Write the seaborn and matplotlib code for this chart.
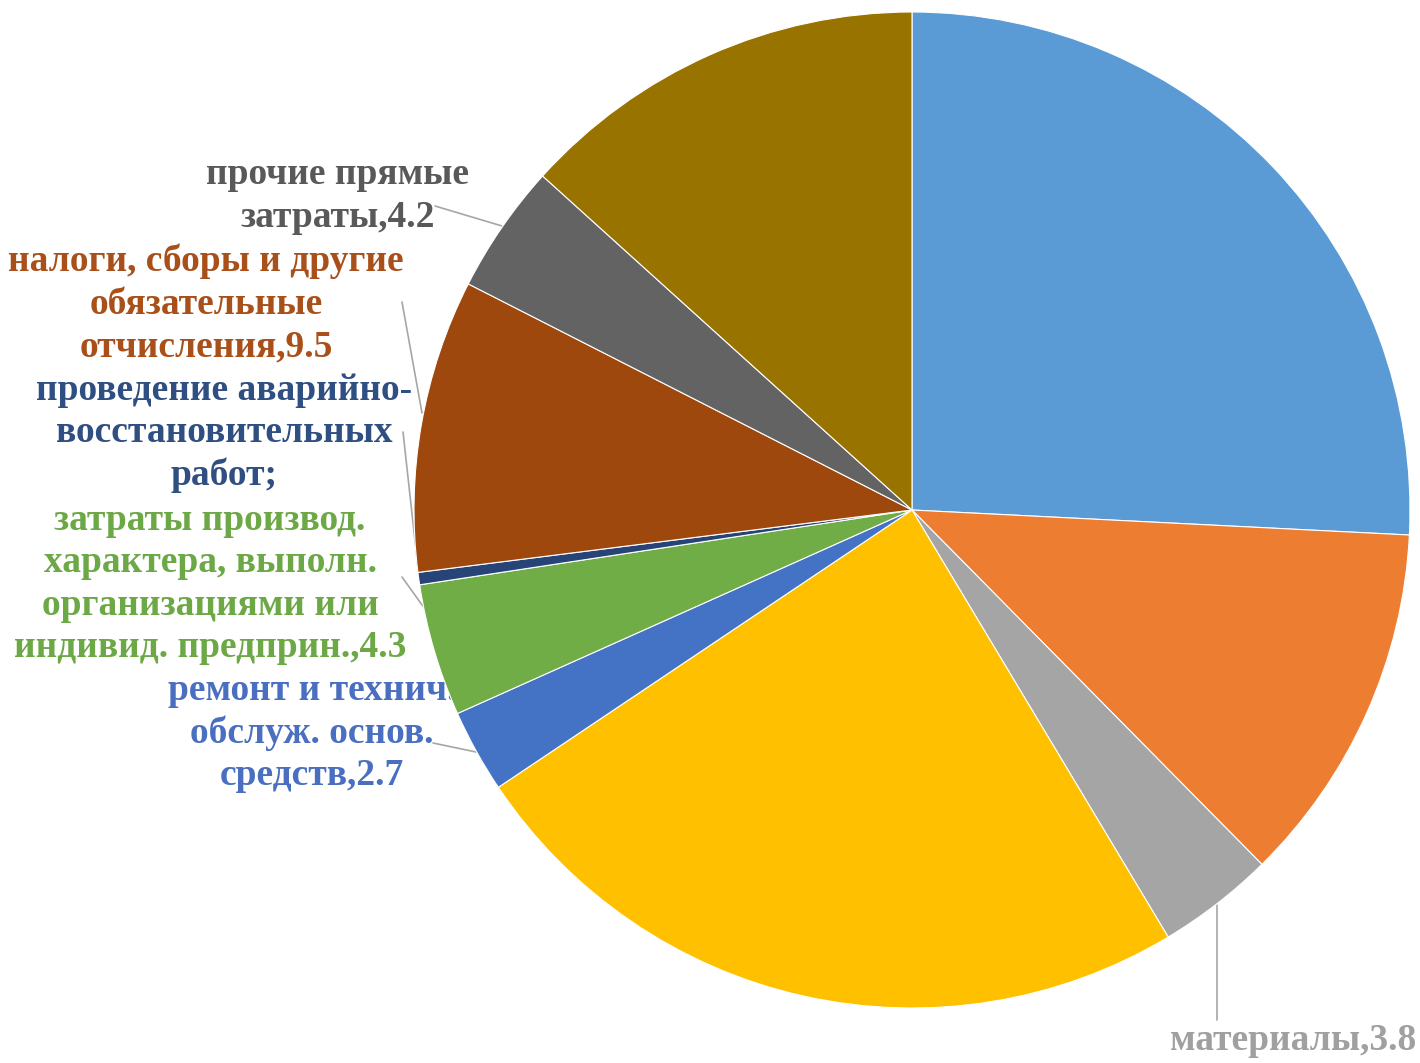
import matplotlib
matplotlib.use("Agg")
import matplotlib.pyplot as plt
import seaborn as sns

sns.set_theme(style="white")
plt.rcParams["font.family"] = ["Liberation Serif", "DejaVu Serif"]

# Cost structure, percent of total (clockwise from 12 o'clock)
categories = [
    "оплата труда",
    "отчисления на соц. нужды",
    "материалы",
    "энергия",
    "ремонт и технич. обслуж. основ. средств",
    "затраты производ. характера, выполн. организациями или индивид. предприн.",
    "проведение аварийно-восстановительных работ",
    "налоги, сборы и другие обязательные отчисления",
    "прочие прямые затраты",
    "прочие расходы",
]
values = [25.8, 11.8, 3.8, 24.2, 2.7, 4.3, 0.4, 9.5, 4.2, 13.3]
colors = ["#5B9BD5", "#ED7D31", "#A5A5A5", "#FFC000", "#4472C4",
          "#70AD47", "#264478", "#9E480E", "#636363", "#997300"]

W, H = 1420, 1063
fig = plt.figure(figsize=(W / 100, H / 100), dpi=100)
ax = fig.add_axes([0, 0, 1, 1])

cx, cy, r = 912, H - 510, 498
ax.pie(values, colors=colors, startangle=90, counterclock=False,
       center=(cx, cy), radius=r, frame=True,
       wedgeprops=dict(edgecolor="white", linewidth=0.8, zorder=3))
ax.set_xlim(0, W)
ax.set_ylim(0, H)
ax.set_aspect("equal")
ax.axis("off")

fs = 27
def label(x, y, txt, color):
    ax.text(x, H - y, txt, ha="center", va="center", fontsize=fs,
            fontweight="bold", color=color, linespacing=1.27, zorder=2)

def leader(x0, y0, x1, y1):
    ax.plot([x0, x1], [H - y0, H - y1], color="#A6A6A6", lw=1.2, zorder=1)

label(338, 196, "прочие прямые\nзатраты,4.2", "#595959")
label(206, 304, "налоги, сборы и другие\nобязательные\nотчисления,9.5", "#A9501A")
label(224, 433, "проведение аварийно-\nвосстановительных\nработ;", "#2F4F82")
label(210, 584, "затраты производ.\nхарактера, выполн.\nорганизациями или\nиндивид. предприн.,4.3", "#6CA845")
label(312, 733, "ремонт и технич.\nобслуж. основ.\nсредств,2.7", "#4A6FC0")
label(1293, 1040, "материалы,3.8", "#A0A0A0")

leader(435, 206, 502, 226)
leader(402, 302, 422, 413)
leader(403, 432, 418, 568)
leader(402, 577, 440, 630)
leader(433, 743, 476, 752)
leader(1217, 905, 1217, 1020)

fig.savefig("out.png", dpi=100, facecolor="white")
